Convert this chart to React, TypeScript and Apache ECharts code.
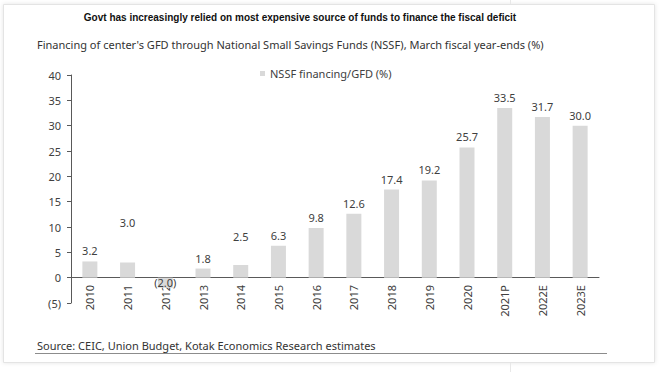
import React, { useEffect, useRef } from "react";
import * as echarts from "echarts";

const categories = ["2010", "2011", "2012", "2013", "2014", "2015", "2016", "2017", "2018", "2019", "2020", "2021P", "2022E", "2023E"];
const values = [3.2, 3.0, -2.0, 1.8, 2.5, 6.3, 9.8, 12.6, 17.4, 19.2, 25.7, 33.5, 31.7, 30.0];
const labelShift = [0, -29, 0, 0, -18, 0, 0, 0, 0, 0, 0, 0, 0, 0];
const seriesName = "NSSF financing/GFD (%)";
const titleText = "Govt has increasingly relied on most expensive source of funds to finance the fiscal deficit";
const subtitleText = "Financing of center's GFD through National Small Savings Funds (NSSF), March fiscal year-ends (%)";
const sourceText = "Source: CEIC, Union Budget, Kotak Economics Research estimates";

const fmt = (v: number, digits: number) =>
  v < 0 ? "(" + Math.abs(v).toFixed(digits) + ")" : v.toFixed(digits);

export default function App() {
  const ref = useRef<HTMLDivElement>(null);
  useEffect(() => {
    document.body.style.margin = "0";
    const chart = echarts.init(ref.current!, null, { renderer: "svg" });
    const font = "Noto Sans";
    chart.setOption({
      animation: false,
      backgroundColor: "#ffffff",
      textStyle: { fontFamily: font },
      graphic: [
        {
          type: "rect",
          z: -10,
          silent: true,
          shape: { x: 3.5, y: 4.5, width: 651, height: 358 },
          style: { fill: "#ffffff", stroke: "#e4e4e4", lineWidth: 1, shadowBlur: 4, shadowColor: "rgba(0,0,0,0.10)" },
        },
        { type: "line", silent: true, shape: { x1: 510.5, y1: 0, x2: 510.5, y2: 4 }, style: { stroke: "#e8e8e8", lineWidth: 1 } },
        { type: "line", silent: true, shape: { x1: 510.5, y1: 363, x2: 510.5, y2: 372 }, style: { stroke: "#e8e8e8", lineWidth: 1 } },
        {
          type: "text",
          x: 300,
          y: 17,
          style: { text: titleText, fontFamily: "Liberation Sans", fontWeight: "bold", fontSize: 10, fill: "#111111", align: "center", verticalAlign: "middle" },
        },
        {
          type: "text",
          x: 37,
          y: 44,
          style: { text: subtitleText, fontFamily: font, fontSize: 11, fill: "#333333", align: "left", verticalAlign: "middle" },
        },
        {
          type: "text",
          x: 37,
          y: 345,
          style: { text: sourceText, fontFamily: font, fontSize: 11, fill: "#333333", align: "left", verticalAlign: "middle" },
        },
        { type: "line", silent: true, shape: { x1: 35, y1: 353.5, x2: 607, y2: 353.5 }, style: { stroke: "#8c8c8c", lineWidth: 1 } },
      ],
      legend: {
        left: 255,
        top: 63,
        icon: "rect",
        itemWidth: 5,
        itemHeight: 5,
        textStyle: { fontFamily: font, fontSize: 11, color: "#404040" },
        data: [seriesName],
      },
      grid: { left: 71, right: 64, top: 75, bottom: 69, containLabel: false },
      xAxis: {
        type: "category",
        data: categories,
        axisLine: { onZero: true, lineStyle: { color: "#595959", width: 1 } },
        axisTick: { show: false },
        axisLabel: { rotate: 90, interval: 0, margin: -18, fontSize: 11, color: "#404040", fontFamily: font },
      },
      yAxis: {
        type: "value",
        min: -5,
        max: 40,
        interval: 5,
        splitLine: { show: false },
        axisLine: { show: true, lineStyle: { color: "#595959", width: 1 } },
        axisTick: { show: true, length: 4, lineStyle: { color: "#595959" } },
        axisLabel: { fontSize: 11, color: "#404040", fontFamily: font, margin: 10, formatter: (v: number) => fmt(v, 0) },
      },
      series: [
        {
          name: seriesName,
          type: "bar",
          barWidth: 15,
          itemStyle: { color: "#d9d9d9" },
          data: values.map((v, i) => ({
            value: v,
            label: v < 0 ? { position: "inside" } : { position: "top", offset: [0, labelShift[i]] },
          })),
          label: {
            show: true,
            position: "top",
            distance: 5,
            fontSize: 11,
            color: "#404040",
            fontFamily: font,
            formatter: (p: any) => fmt(p.value, 1),
          },
        },
      ],
    });
    return () => chart.dispose();
  }, []);
  return <div ref={ref} style={{ width: 663, height: 372 }} />;
}
